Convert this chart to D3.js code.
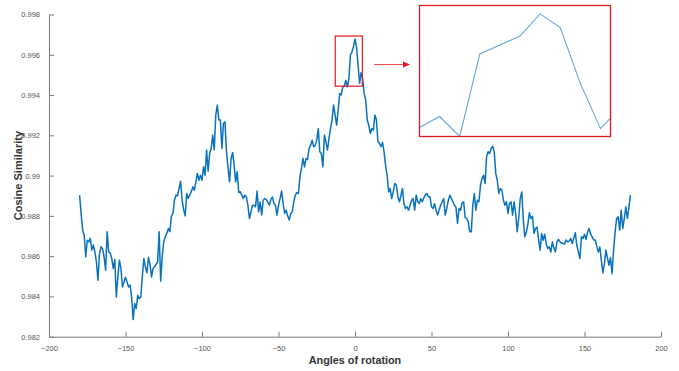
<!DOCTYPE html>
<html>
<head>
<meta charset="utf-8">
<script src="https://cdn.jsdelivr.net/npm/d3@7"></script>
<style>
  html, body { margin: 0; padding: 0; background: #fff; }
  svg { display: block; }
  text { font-family: "Liberation Sans", Arial, sans-serif; }
</style>
</head>
<body>
<svg id="chart" width="679" height="371"></svg>
<script>
// ---- data ----
const angleStart = -180;   // degrees, 1-degree step
const similarity = [
  // -180 .. -171
  0.98903, 0.98810, 0.98729, 0.98704, 0.98596, 0.98679, 0.98671, 0.98688, 0.98630, 0.98655,
  // -170 .. -161
  0.98620, 0.98571, 0.98480, 0.98613, 0.98646, 0.98638, 0.98596, 0.98530, 0.98721, 0.98621,
  // -160 .. -151
  0.98616, 0.98588, 0.98539, 0.98583, 0.98397, 0.98497, 0.98580, 0.98540, 0.98447, 0.98472,
  // -150 .. -141
  0.98495, 0.98472, 0.98447, 0.98456, 0.98397, 0.98285, 0.98365, 0.98340, 0.98406, 0.98389,
  // -140 .. -131
  0.98397, 0.98500, 0.98588, 0.98547, 0.98517, 0.98595, 0.98560, 0.98497, 0.98539, 0.98547,
  // -130 .. -121
  0.98560, 0.98571, 0.98721, 0.98475, 0.98600, 0.98671, 0.98696, 0.98713, 0.98737, 0.98721,
  // -120 .. -111
  0.98800, 0.98812, 0.98878, 0.98903, 0.98900, 0.98935, 0.98972, 0.98878, 0.98830, 0.98800,
  // -110 .. -101
  0.98911, 0.98886, 0.98905, 0.98920, 0.98944, 0.98928, 0.98970, 0.99011, 0.98977, 0.99002,
  // -100 .. -91
  0.98977, 0.99044, 0.99002, 0.99127, 0.99022, 0.99110, 0.99135, 0.99201, 0.99127, 0.99301,
  // -90 .. -81
  0.99350, 0.99276, 0.99276, 0.99135, 0.99259, 0.99267, 0.99118, 0.99040, 0.98969, 0.99085,
  // -80 .. -71
  0.99115, 0.99052, 0.98969, 0.99019, 0.98916, 0.98920, 0.98903, 0.98886, 0.98903, 0.98894,
  // -70 .. -61
  0.98853, 0.98787, 0.98820, 0.98853, 0.98853, 0.98845, 0.98923, 0.98820, 0.98870, 0.98804,
  // -60 .. -51
  0.98878, 0.98886, 0.98882, 0.98867, 0.98853, 0.98880, 0.98894, 0.98862, 0.98853, 0.98804,
  // -50 .. -41
  0.98853, 0.98886, 0.98923, 0.98862, 0.98812, 0.98828, 0.98800, 0.98779, 0.98812, 0.98820,
  // -40 .. -31
  0.98870, 0.98903, 0.98916, 0.98911, 0.98994, 0.99036, 0.99085, 0.99044, 0.99085, 0.99080,
  // -30 .. -21
  0.99135, 0.99151, 0.99176, 0.99143, 0.99150, 0.99176, 0.99234, 0.99118, 0.99110, 0.99044,
  // -20 .. -11
  0.99201, 0.99168, 0.99127, 0.99185, 0.99234, 0.99276, 0.99350, 0.99301, 0.99251, 0.99325,
  // -10 .. -1
  0.99408, 0.99400, 0.99441, 0.99445, 0.99474, 0.99441, 0.99480, 0.99599, 0.99615, 0.99640,
  // 0 .. 9
  0.99677, 0.99640, 0.99550, 0.99458, 0.99511, 0.99480, 0.99408, 0.99375, 0.99276, 0.99250,
  // 10 .. 19
  0.99209, 0.99234, 0.99226, 0.99301, 0.99276, 0.99168, 0.99160, 0.99143, 0.99165, 0.99118,
  // 20 .. 29
  0.99050, 0.99000, 0.98919, 0.98936, 0.98886, 0.98920, 0.98961, 0.98953, 0.98895, 0.98870,
  // 30 .. 39
  0.98900, 0.98936, 0.98860, 0.98837, 0.98845, 0.98828, 0.98853, 0.98878, 0.98886, 0.98828,
  // 40 .. 49
  0.98903, 0.98870, 0.98862, 0.98886, 0.98870, 0.98890, 0.98903, 0.98911, 0.98895, 0.98895,
  // 50 .. 59
  0.98845, 0.98837, 0.98860, 0.98828, 0.98804, 0.98830, 0.98853, 0.98870, 0.98886, 0.98804,
  // 60 .. 69
  0.98837, 0.98878, 0.98903, 0.98886, 0.98870, 0.98853, 0.98842, 0.98762, 0.98837, 0.98828,
  // 70 .. 79
  0.98865, 0.98870, 0.98792, 0.98787, 0.98771, 0.98721, 0.98721, 0.98853, 0.98911, 0.98828,
  // 80 .. 89
  0.98878, 0.98870, 0.98950, 0.98986, 0.99002, 0.98961, 0.99093, 0.99118, 0.99110, 0.99135,
  // 90 .. 99
  0.99146, 0.99118, 0.99011, 0.98977, 0.98911, 0.98936, 0.98928, 0.98878, 0.98853, 0.98870,
  // 100 .. 109
  0.98812, 0.98862, 0.98870, 0.98804, 0.98870, 0.98812, 0.98721, 0.98787, 0.98886, 0.98919,
  // 110 .. 119
  0.98779, 0.98696, 0.98720, 0.98760, 0.98815, 0.98787, 0.98798, 0.98713, 0.98737, 0.98745,
  // 120 .. 129
  0.98680, 0.98630, 0.98713, 0.98679, 0.98709, 0.98660, 0.98638, 0.98646, 0.98621, 0.98671,
  // 130 .. 139
  0.98640, 0.98621, 0.98671, 0.98683, 0.98671, 0.98665, 0.98663, 0.98660, 0.98680, 0.98671,
  // 140 .. 149
  0.98675, 0.98688, 0.98663, 0.98690, 0.98716, 0.98654, 0.98620, 0.98588, 0.98696, 0.98688,
  // 150 .. 159
  0.98709, 0.98683, 0.98720, 0.98737, 0.98709, 0.98696, 0.98680, 0.98680, 0.98650, 0.98621,
  // 160 .. 169
  0.98646, 0.98580, 0.98517, 0.98560, 0.98630, 0.98590, 0.98555, 0.98593, 0.98514, 0.98630,
  // 170 .. 179
  0.98720, 0.98787, 0.98795, 0.98729, 0.98828, 0.98737, 0.98787, 0.98845, 0.98787, 0.98840,
  // 180
  0.98903
];
const angles = similarity.map((_, i) => angleStart + i);

const xTicks = [-200, -150, -100, -50, 0, 50, 100, 150, 200];
const yTicks = [0.982, 0.984, 0.986, 0.988, 0.99, 0.992, 0.994, 0.996, 0.998];
const xLabel = "Angles of rotation";
const yLabel = "Cosine Similarity";

// zoom box (data coords) and inset detail series
const zoomBoxX = [-12.9, 4.8];
const zoomBoxY = [0.99444, 0.99693];
const insetAngles = [-12, -10, -8, -6, -4, -2, 0, 2, 4, 6, 7];
const insetValues = [0.99461, 0.99482, 0.99444, 0.99601, 0.99618, 0.99635, 0.99677, 0.99651, 0.99545, 0.99459, 0.99479];

// ---- layout ----
const svg = d3.select("#chart");
const W = 679, H = 371;
const plot = { left: 49, right: 661, top: 14.5, bottom: 336.7 };

const x = d3.scaleLinear().domain([-200, 200]).range([plot.left, plot.right]);
const y = d3.scaleLinear().domain([0.982, 0.998]).range([plot.bottom, plot.top]);

const axisColor = "#7a7a7a";
const tickTextColor = "#555";

// x axis (ticks inward)
const gx = svg.append("g")
  .attr("transform", `translate(0,${plot.bottom})`)
  .call(d3.axisBottom(x).tickValues(xTicks).tickSizeInner(-5).tickSizeOuter(0)
        .tickFormat(d3.format("d")).tickPadding(9));
gx.select(".domain").attr("stroke", axisColor).attr("stroke-width", 1);
gx.selectAll(".tick line").attr("stroke", axisColor);
gx.selectAll(".tick text").attr("fill", tickTextColor)
  .style("font-size", "7.5px").attr("font-family", "Liberation Sans, Arial, sans-serif");

// y axis (ticks inward)
const gy = svg.append("g")
  .attr("transform", `translate(${plot.left},0)`)
  .call(d3.axisLeft(y).tickValues(yTicks).tickSizeInner(-5).tickSizeOuter(0)
        .tickFormat(d => d3.format("")(+d.toFixed(3))).tickPadding(9));
gy.select(".domain").attr("stroke", axisColor).attr("stroke-width", 1);
gy.selectAll(".tick line").attr("stroke", axisColor);
gy.selectAll(".tick text").attr("fill", tickTextColor)
  .style("font-size", "7.5px").attr("font-family", "Liberation Sans, Arial, sans-serif");

// axis titles
svg.append("text")
  .attr("x", x(0)).attr("y", 364)
  .attr("text-anchor", "middle")
  .attr("font-weight", "bold").attr("font-size", 10.8).attr("fill", "#333")
  .text(xLabel);

svg.append("text")
  .attr("transform", `translate(22,${(plot.top + plot.bottom) / 2}) rotate(-90)`)
  .attr("text-anchor", "middle")
  .attr("font-weight", "bold").attr("font-size", 11).attr("fill", "#333")
  .text(yLabel);

// main line
const line = d3.line().x((d, i) => x(angles[i])).y(d => y(d));
svg.append("path")
  .datum(similarity)
  .attr("fill", "none")
  .attr("stroke", "#0a72bd")
  .attr("stroke-width", 1.5)
  .attr("stroke-linejoin", "round")
  .attr("d", line);

// zoom box on main plot
svg.append("rect")
  .attr("x", x(zoomBoxX[0])).attr("y", y(zoomBoxY[1]))
  .attr("width", x(zoomBoxX[1]) - x(zoomBoxX[0]))
  .attr("height", y(zoomBoxY[0]) - y(zoomBoxY[1]))
  .attr("fill", "none").attr("stroke", "#e41a1a").attr("stroke-width", 1.2);

// arrow
const arrowY = 64.5;
svg.append("line")
  .attr("x1", 374).attr("x2", 404).attr("y1", arrowY).attr("y2", arrowY)
  .attr("stroke", "#f05050").attr("stroke-width", 1);
svg.append("path")
  .attr("d", `M403,${arrowY - 3} L410,${arrowY} L403,${arrowY + 3} Z`)
  .attr("fill", "#e41a1a");

// inset
const inset = { left: 419.5, right: 610.5, top: 5.5, bottom: 136.5 };
const ix = d3.scaleLinear().domain([insetAngles[0], insetAngles[insetAngles.length - 1]]).range([inset.left, inset.right]);
const iy = d3.scaleLinear().domain(zoomBoxY).range([inset.bottom, inset.top]);

svg.append("defs").append("clipPath").attr("id", "insetClip")
  .append("rect").attr("x", inset.left).attr("y", inset.top)
  .attr("width", inset.right - inset.left).attr("height", inset.bottom - inset.top);

svg.append("path")
  .datum(insetValues)
  .attr("clip-path", "url(#insetClip)")
  .attr("fill", "none")
  .attr("stroke", "#62a8dc")
  .attr("stroke-width", 1.1)
  .attr("d", d3.line().x((d, i) => ix(insetAngles[i])).y(d => iy(d)));

svg.append("rect")
  .attr("x", inset.left).attr("y", inset.top)
  .attr("width", inset.right - inset.left).attr("height", inset.bottom - inset.top)
  .attr("fill", "none").attr("stroke", "#e41a1a").attr("stroke-width", 1.3);
</script>
</body>
</html>
